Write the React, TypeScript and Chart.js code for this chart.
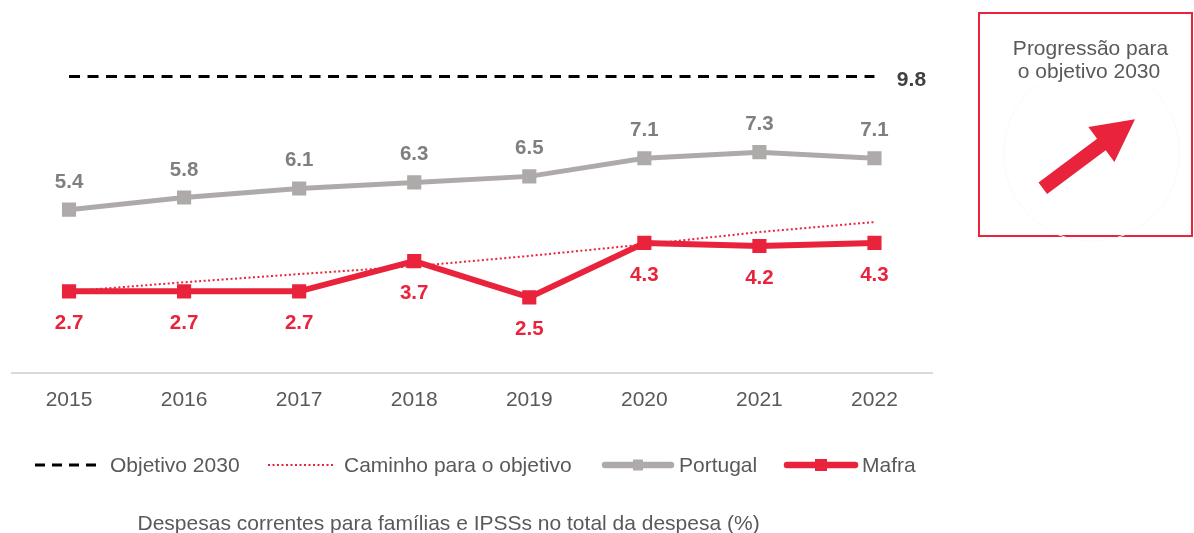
import React, { useEffect, useRef } from 'react';
import { Chart, registerables } from 'chart.js';

Chart.register(...registerables);

const years = ['2015', '2016', '2017', '2018', '2019', '2020', '2021', '2022'];
const portugal = [5.4, 5.8, 6.1, 6.3, 6.5, 7.1, 7.3, 7.1];
const mafra = [2.7, 2.7, 2.7, 3.7, 2.5, 4.3, 4.2, 4.3];
const objetivo = [9.8, 9.8, 9.8, 9.8, 9.8, 9.8, 9.8, 9.8];
const caminho = [2.7, 3.0, 3.27, 3.53, 3.87, 4.25, 4.66, 4.99];
const objetivoLabel = '9.8';
const legendLabels = ['Objetivo 2030', 'Caminho para o objetivo', 'Portugal', 'Mafra'];
const titleText = 'Despesas correntes para famílias e IPSSs no total da despesa (%)';
const boxLines = ['Progressão para', 'o objetivo 2030'];

const FONT = "'Liberation Sans', Arial, sans-serif";
const RED = '#e8233b';
const GRAY = '#aeaaaa';
const TEXT = '#595959';

const decor = {
  id: 'decor',
  afterDatasetsDraw(chart: any) {
    const ctx = chart.ctx;
    ctx.save();
    ctx.textAlign = 'center';
    ctx.textBaseline = 'alphabetic';
    ctx.font = `bold 20.5px ${FONT}`;
    const pm = chart.getDatasetMeta(2);
    ctx.fillStyle = '#7f7f7f';
    pm.data.forEach((p: any, i: number) => {
      ctx.fillText(portugal[i].toFixed(1), p.x, p.y - 22);
    });
    const mm = chart.getDatasetMeta(3);
    ctx.fillStyle = RED;
    mm.data.forEach((p: any, i: number) => {
      ctx.fillText(mafra[i].toFixed(1), p.x, p.y + 38);
    });
    const om = chart.getDatasetMeta(0);
    const last = om.data[om.data.length - 1];
    ctx.font = `bold 21px ${FONT}`;
    ctx.fillStyle = '#404040';
    ctx.fillText(objetivoLabel, last.x + 37, last.y + 9);
    ctx.restore();
  },
  afterDraw(chart: any) {
    const ctx = chart.ctx;
    ctx.save();
    // legend
    const ly = 465;
    ctx.lineCap = 'butt';
    ctx.strokeStyle = '#000';
    ctx.lineWidth = 3;
    ctx.setLineDash([10, 7]);
    ctx.beginPath();
    ctx.moveTo(35, ly);
    ctx.lineTo(100, ly);
    ctx.stroke();
    ctx.strokeStyle = RED;
    ctx.lineWidth = 2;
    ctx.setLineDash([2, 2.5]);
    ctx.beginPath();
    ctx.moveTo(268, ly);
    ctx.lineTo(335, ly);
    ctx.stroke();
    ctx.setLineDash([]);
    ctx.lineCap = 'round';
    ctx.lineWidth = 6.5;
    ctx.strokeStyle = GRAY;
    ctx.beginPath();
    ctx.moveTo(605, ly);
    ctx.lineTo(671, ly);
    ctx.stroke();
    ctx.fillStyle = GRAY;
    ctx.fillRect(633, ly - 5.5, 10, 11);
    ctx.strokeStyle = RED;
    ctx.beginPath();
    ctx.moveTo(787, ly);
    ctx.lineTo(855, ly);
    ctx.stroke();
    ctx.fillStyle = RED;
    ctx.fillRect(815, ly - 6, 12, 12);
    ctx.fillStyle = TEXT;
    ctx.font = `21px ${FONT}`;
    ctx.textAlign = 'left';
    ctx.textBaseline = 'alphabetic';
    ctx.fillText(legendLabels[0], 110, 471.5);
    ctx.fillText(legendLabels[1], 344, 471.5);
    ctx.fillText(legendLabels[2], 679, 471.5);
    ctx.fillText(legendLabels[3], 862, 471.5);
    // title
    ctx.fillText(titleText, 137.5, 530);
    // box
    ctx.strokeStyle = RED;
    ctx.lineWidth = 2;
    ctx.strokeRect(979, 13, 213, 223);
    ctx.strokeStyle = '#f9f9f9';
    ctx.lineWidth = 1;
    ctx.beginPath();
    ctx.arc(1091.7, 153.3, 88, 0, Math.PI * 2);
    ctx.stroke();
    ctx.fillStyle = '#fff';
    ctx.fillRect(1005, 36, 170, 48);
    ctx.fillStyle = TEXT;
    ctx.textAlign = 'center';
    ctx.fillText(boxLines[0], 1090.5, 55);
    ctx.fillText(boxLines[1], 1089, 78.3);
    ctx.fillStyle = RED;
    ctx.beginPath();
    ctx.moveTo(1047.1, 194.1);
    ctx.lineTo(1105.7, 150.3);
    ctx.lineTo(1114.4, 161.9);
    ctx.lineTo(1135, 119.3);
    ctx.lineTo(1088.4, 127.1);
    ctx.lineTo(1097.1, 138.7);
    ctx.lineTo(1038.5, 182.5);
    ctx.closePath();
    ctx.fill();
    ctx.restore();
  },
};

export default function App() {
  const ref = useRef<HTMLCanvasElement>(null);
  useEffect(() => {
    const chart = new Chart(ref.current as HTMLCanvasElement, {
      type: 'line',
      data: {
        labels: years,
        datasets: [
          {
            label: legendLabels[0],
            data: objetivo,
            borderColor: '#000',
            borderWidth: 3,
            borderDash: [11, 7.5],
            pointRadius: 0,
            order: 4,
          },
          {
            label: legendLabels[1],
            data: caminho,
            borderColor: RED,
            borderWidth: 2,
            borderDash: [2, 2.5],
            pointRadius: 0,
            order: 3,
          },
          {
            label: legendLabels[2],
            data: portugal,
            borderColor: GRAY,
            backgroundColor: GRAY,
            borderWidth: 5,
            pointStyle: 'rect',
            pointRadius: 10,
            pointBorderWidth: 0,
            pointBackgroundColor: GRAY,
            order: 2,
          },
          {
            label: legendLabels[3],
            data: mafra,
            borderColor: RED,
            backgroundColor: RED,
            borderWidth: 6,
            pointStyle: 'rect',
            pointRadius: 10,
            pointBorderWidth: 0,
            pointBackgroundColor: RED,
            order: 1,
          },
        ],
      },
      options: {
        responsive: false,
        animation: false,
        devicePixelRatio: 1,
        layout: { padding: { left: 11.5, right: 262, top: 9.4, bottom: 0 } },
        plugins: { legend: { display: false }, tooltip: { enabled: false } },
        scales: {
          x: {
            type: 'category',
            offset: true,
            grid: { display: false, drawTicks: false },
            border: { display: true, color: '#d9d9d9', width: 2 },
            ticks: { color: TEXT, font: { family: FONT, size: 21 }, padding: 15 },
            afterFit: (s: any) => {
              s.height = 160;
            },
          },
          y: { display: false, min: 0, max: 12 },
        },
      },
      plugins: [decor],
    } as any);
    return () => chart.destroy();
  }, []);
  return (
    <div style={{ position: 'fixed', left: 0, top: 0, width: 1194, height: 533, background: '#fff' }}>
      <canvas ref={ref} width={1194} height={533} style={{ display: 'block', width: 1194, height: 533 }} />
    </div>
  );
}
